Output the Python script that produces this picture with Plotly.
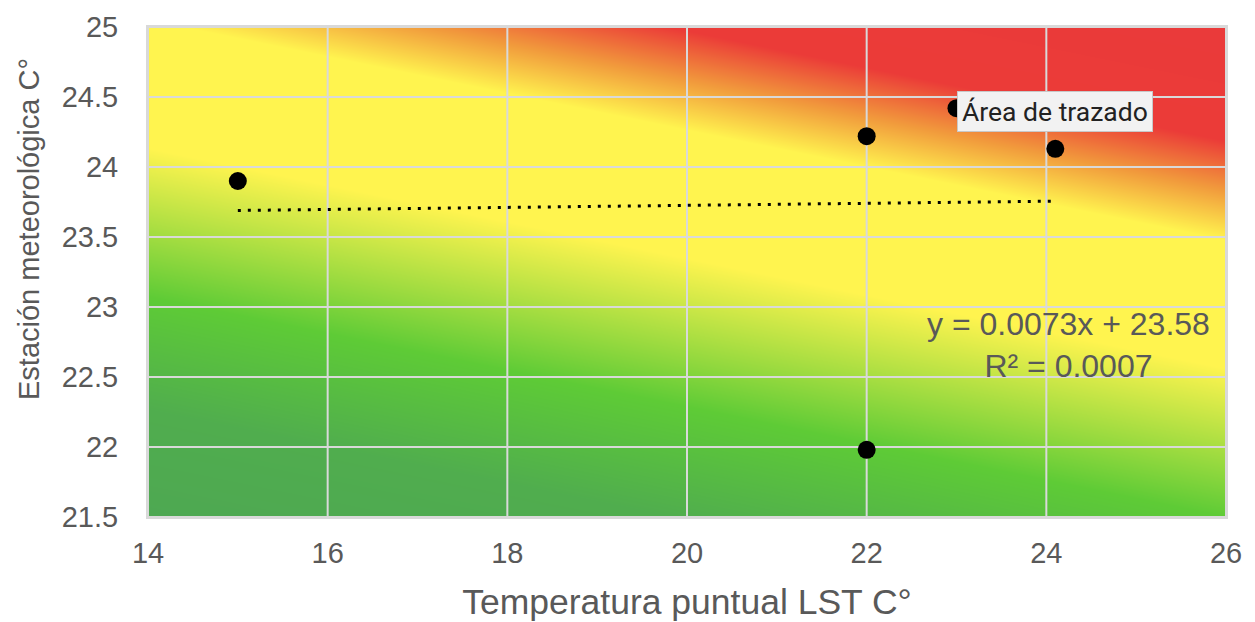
import plotly.graph_objects as go

# measured points (LST vs weather station)
lst_temp = [15.0, 22.0, 23.0, 24.1, 22.0]
station_temp = [23.9, 24.22, 24.42, 24.13, 21.98]

# linear trend as printed on the chart
trend_slope = 0.0073
trend_intercept = 23.58
trend_label = "y = 0.0073x + 23.58<br>R² = 0.0007"

x_ticks = [14, 16, 18, 20, 22, 24, 26]
y_ticks = [21.5, 22, 22.5, 23, 23.5, 24, 24.5, 25]

# background gradient levels at the plot corners (bottom row, top row)
bg_x = [14, 26]
bg_y = [21.5, 25]
bg_levels = [[0.0, 0.31], [0.69, 1.0]]

bg_scale = [
    [0.0, "#4ea852"],
    [0.15, "#50ad4e"],
    [0.31, "#5ecb36"],
    [0.52, "#fff44f"],
    [0.70, "#fff44f"],
    [0.77, "#f19a3c"],
    [0.84, "#eb3b38"],
    [1.0, "#ea3a3a"],
]

grey = "#595959"
grid = "#d9d9d9"

fig = go.Figure()

fig.add_trace(go.Heatmap(
    x=bg_x, y=bg_y, z=bg_levels,
    zmin=0, zmax=1, zsmooth="best",
    colorscale=bg_scale, showscale=False, hoverinfo="skip",
))

# grid drawn as a trace so it sits on top of the gradient
gx, gy = [], []
for t in x_ticks:
    gx += [t, t, None]
    gy += [y_ticks[0], y_ticks[-1], None]
for t in y_ticks:
    gx += [x_ticks[0], x_ticks[-1], None]
    gy += [t, t, None]
fig.add_trace(go.Scatter(
    x=gx, y=gy, mode="lines", line=dict(color=grid, width=2),
    hoverinfo="skip", cliponaxis=False,
))

x0, x1 = min(lst_temp), max(lst_temp)
fig.add_trace(go.Scatter(
    x=[x0, x1],
    y=[trend_slope * x0 + trend_intercept, trend_slope * x1 + trend_intercept],
    mode="lines",
    line=dict(color="black", width=3, dash="3px,7px"),
    hoverinfo="skip",
))

fig.add_trace(go.Scatter(
    x=lst_temp, y=station_temp, mode="markers",
    marker=dict(color="black", size=18),
))

fig.add_annotation(
    x=24.25, y=22.73, text=trend_label, showarrow=False,
    font=dict(family="Liberation Sans, Arial", size=32, color=grey),
    align="center",
)

# hover tooltip caught in the screenshot
fig.add_annotation(
    x=23.0, y=24.54, text="Área de trazado",
    showarrow=False, xanchor="left", yanchor="top",
    font=dict(family="Roboto, Arial", size=26.5, color="#222222"),
    bgcolor="#f2f2f2", bordercolor="#c8c8c8", borderwidth=1, borderpad=4,
)

# y title sits a bit above the plot centre in the original
fig.add_annotation(
    x=0, y=0.5, xref="paper", yref="paper", text="Estación meteorológica C°",
    showarrow=False, textangle=-90, xanchor="center", yanchor="middle",
    xshift=-119, yshift=43,
    font=dict(family="Liberation Sans, Arial", size=29, color=grey),
)

# the page body adds an 8px offset, margins account for it
fig.update_layout(
    width=1255, height=622,
    paper_bgcolor="white", plot_bgcolor="white",
    margin=dict(l=140, r=37, t=19, b=113, autoexpand=False),
    showlegend=False,
    font=dict(family="Liberation Sans, Arial", color=grey),
)
fig.update_xaxes(
    range=[14, 26], tickvals=x_ticks, showgrid=False,
    showline=True, linecolor=grid, linewidth=2, mirror=True, zeroline=False,
    tickfont=dict(size=29, color=grey), ticks="", ticklabelstandoff=9,
    title=dict(text="Temperatura puntual LST C°", font=dict(size=35.5, color=grey), standoff=21),
)
fig.update_yaxes(
    range=[21.5, 25], tickvals=y_ticks, showgrid=False,
    showline=True, linecolor=grid, linewidth=2, mirror=True, zeroline=False,
    tickfont=dict(size=29, color=grey), ticks="", ticklabelstandoff=22,
)

fig.write_html("out.html")
